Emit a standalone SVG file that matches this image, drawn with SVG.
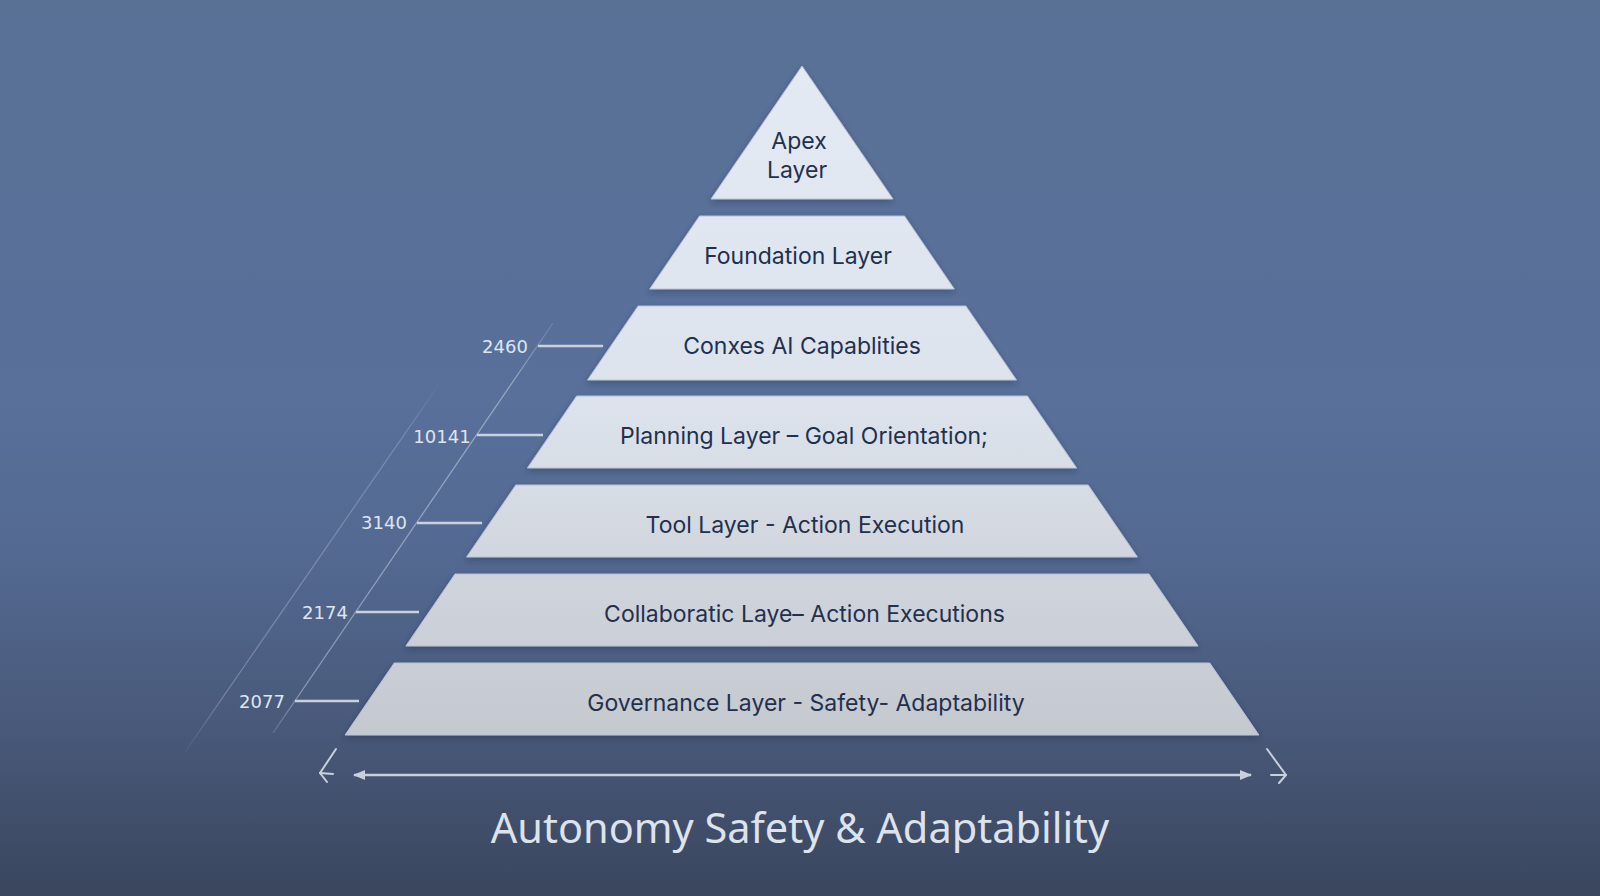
<svg xmlns="http://www.w3.org/2000/svg" width="1600" height="896" viewBox="0 0 1600 896">
  <defs>
    <linearGradient id="bg" x1="0" y1="0" x2="0" y2="1">
      <stop offset="0" stop-color="#5a7196"/>
      <stop offset="0.45" stop-color="#58709a"/>
      <stop offset="0.62" stop-color="#536991"/>
      <stop offset="0.8" stop-color="#495a7b"/>
      <stop offset="1" stop-color="#3a465e"/>
    </linearGradient>
    <linearGradient id="layerFill" gradientUnits="userSpaceOnUse" x1="0" y1="66" x2="0" y2="735">
      <stop offset="0" stop-color="#e4eaf3"/>
      <stop offset="0.5" stop-color="#dde3ec"/>
      <stop offset="1" stop-color="#c4c8cf"/>
    </linearGradient>
    <linearGradient id="diagInner" gradientUnits="userSpaceOnUse" x1="553" y1="323" x2="273" y2="733">
      <stop offset="0" stop-color="#c8d3e4" stop-opacity="0.15"/>
      <stop offset="0.15" stop-color="#c8d3e4" stop-opacity="0.55"/>
      <stop offset="0.9" stop-color="#c8d3e4" stop-opacity="0.5"/>
      <stop offset="1" stop-color="#c8d3e4" stop-opacity="0.2"/>
    </linearGradient>
    <linearGradient id="diagOuter" gradientUnits="userSpaceOnUse" x1="442" y1="380" x2="185" y2="752">
      <stop offset="0" stop-color="#c8d3e4" stop-opacity="0"/>
      <stop offset="0.15" stop-color="#c8d3e4" stop-opacity="0.3"/>
      <stop offset="0.85" stop-color="#c8d3e4" stop-opacity="0.35"/>
      <stop offset="1" stop-color="#c8d3e4" stop-opacity="0.05"/>
    </linearGradient>
    <filter id="shadow" x="-10%" y="-20%" width="120%" height="150%">
      <feDropShadow dx="0" dy="3" stdDeviation="3" flood-color="#1c2740" flood-opacity="0.35"/>
    </filter>
    <marker id="headEnd" viewBox="0 0 12 10" refX="11" refY="5" markerWidth="12" markerHeight="10" markerUnits="userSpaceOnUse" orient="auto">
      <path d="M0,0 L12,5 L0,10 Z" fill="#c8d0dc"/>
    </marker>
    <marker id="headStart" viewBox="0 0 12 10" refX="1" refY="5" markerWidth="12" markerHeight="10" markerUnits="userSpaceOnUse" orient="auto">
      <path d="M12,0 L0,5 L12,10 Z" fill="#c8d0dc"/>
    </marker>
    <style>
      .layer { fill: url(#layerFill); stroke: #b4c2d6; stroke-width: 1; filter: url(#shadow); }
      .lbl { font-family: Inter, "Noto Sans", sans-serif; font-size: 23px; fill: #22304d; text-anchor: middle; }
      .num { font-family: "DejaVu Sans", sans-serif; font-size: 18px; fill: #dfe5ee; text-anchor: middle; }
      .tick { stroke: #c9d1de; stroke-width: 2.5; }
      .title { font-family: "Noto Sans", "Open Sans", sans-serif; font-size: 41.5px; fill: #dde3ec; text-anchor: middle; }
      .chev { fill: none; stroke: #c8d0dc; stroke-width: 2; stroke-linecap: round; stroke-linejoin: round; }
    </style>
  </defs>

  <rect x="0" y="0" width="1600" height="896" fill="url(#bg)"/>

  <!-- diagonal guide lines -->
  <g id="guides">
    <line x1="553" y1="323" x2="273" y2="733" stroke="url(#diagInner)" stroke-width="1.3"/>
    <line x1="442" y1="380" x2="185" y2="752" stroke="url(#diagOuter)" stroke-width="1.2"/>
  </g>

  <!-- pyramid layers -->
  <g id="layer-apex">
    <polygon class="layer" points="802,66 893,199 711,199"/>
    <text class="lbl" x="799" y="149">Apex</text>
    <text class="lbl" x="797" y="178">Layer</text>
  </g>
  <g id="layer-foundation">
    <polygon class="layer" points="699.5,216 904.5,216 954.3,289 649.7,289"/>
    <text class="lbl" x="798" y="264">Foundation Layer</text>
  </g>
  <g id="layer-conxes">
    <polygon class="layer" points="638.1,306 965.9,306 1016.5,380 587.5,380"/>
    <text class="lbl" x="802" y="354">Conxes AI Capablities</text>
  </g>
  <g id="layer-planning">
    <polygon class="layer" points="576.6,396 1027.4,396 1076.6,468 527.4,468"/>
    <text class="lbl" x="804" y="444">Planning Layer – Goal Orientation;</text>
  </g>
  <g id="layer-tool">
    <polygon class="layer" points="515.8,485 1088.2,485 1137.4,557 466.6,557"/>
    <text class="lbl" x="805" y="533">Tool Layer - Action Execution</text>
  </g>
  <g id="layer-collab">
    <polygon class="layer" points="455,574 1149,574 1198.1,646 405.9,646"/>
    <text class="lbl" x="804.5" y="622">Collaboratic Laye– Action Executions</text>
  </g>
  <g id="layer-governance">
    <polygon class="layer" points="394.2,663 1209.8,663 1258.9,735 345.1,735"/>
    <text class="lbl" x="806" y="711">Governance Layer - Safety- Adaptability</text>
  </g>

  <!-- side labels -->
  <g id="labels">
    <text class="num" x="505" y="353">2460</text>
    <text class="num" x="442" y="443">10141</text>
    <text class="num" x="384" y="529">3140</text>
    <text class="num" x="325" y="619">2174</text>
    <text class="num" x="262" y="708">2077</text>
  </g>

  <!-- connectors -->
  <g id="connectors">
    <line class="tick" x1="538" y1="346" x2="603" y2="346"/>
    <line class="tick" x1="477" y1="435" x2="543" y2="435"/>
    <line class="tick" x1="417" y1="523" x2="482" y2="523"/>
    <line class="tick" x1="356" y1="612" x2="419" y2="612"/>
    <line class="tick" x1="295" y1="701" x2="359" y2="701"/>
    <line x1="354" y1="775" x2="1251" y2="775" stroke="#c8d0dc" stroke-width="2.5" marker-start="url(#headStart)" marker-end="url(#headEnd)"/>
    <polyline class="chev" points="336,749 320,773 327,782"/>
    <line class="chev" x1="320" y1="773" x2="333" y2="774"/>
    <polyline class="chev" points="1267,749 1286,775 1279,783"/>
    <line class="chev" x1="1286" y1="775" x2="1271" y2="775"/>
  </g>

  <text class="title" x="800" y="843">Autonomy Safety &amp; Adaptability</text>
</svg>
